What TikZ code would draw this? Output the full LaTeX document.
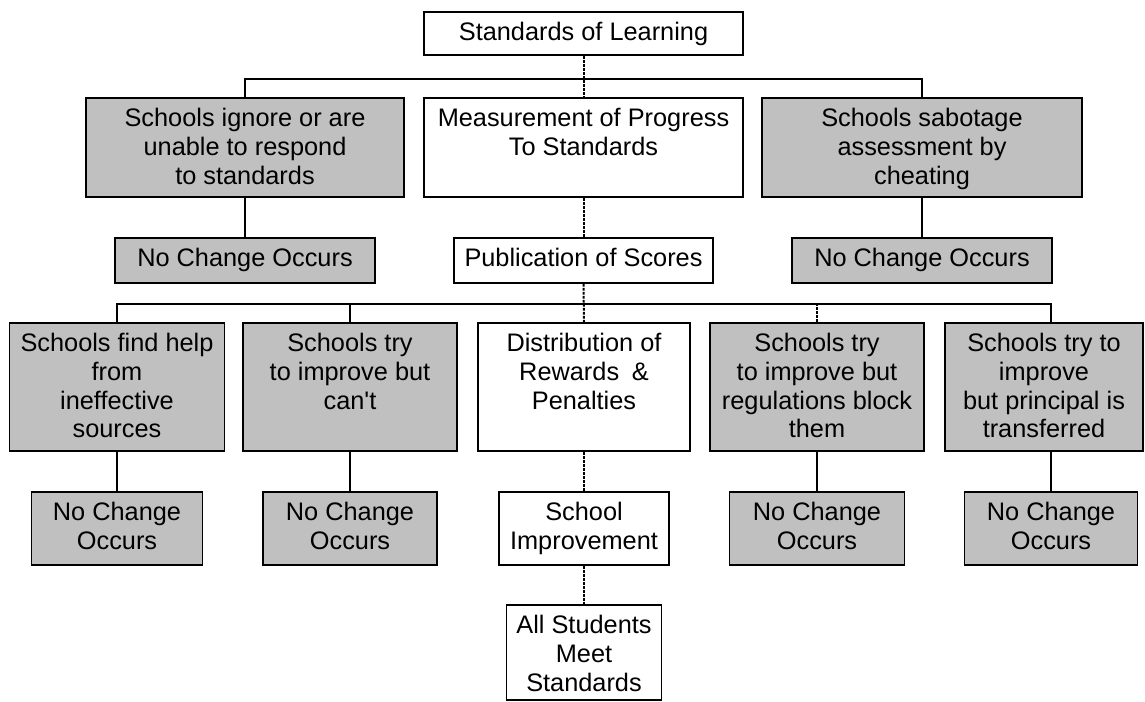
\documentclass[tikz,border=0pt]{standalone}
\usepackage{fontspec}
\setmainfont{Liberation Sans}
\definecolor{boxgray}{RGB}{192,192,192}
\newlength\px
\setlength\px{0.75pt}
\newcommand\bt[3]{\parbox[c][#2\px][t]{#1\px}{\centering\rule{0pt}{21.6pt}#3\par}}
\begin{document}
\begin{tikzpicture}[x=0.75pt,y=-0.75pt,
  box/.style={draw, line width=1.4pt, inner sep=0pt, fill=white, font=\fontsize{19}{21.5}\selectfont},
  gbox/.style={box, fill=boxgray},
  link/.style={line width=1.4pt},
  dotlink/.style={line width=1.5pt, dash pattern=on 2pt off 1pt}]
\useasboundingbox (0,0) rectangle (1145,702);
% level 0
\node[box] (top) at (583.5,33.5) {\bt{319}{43}{Standards of Learning}};
% level 1
\node[gbox] (ign) at (245,147.5) {\bt{318}{99}{Schools ignore or are\\unable to respond\\to standards}};
\node[box] (meas) at (583.5,147.5) {\bt{319}{99}{Measurement of Progress\\To Standards}};
\node[gbox] (sab) at (922,147.5) {\bt{320}{99}{Schools sabotage\\assessment by\\cheating}};
\node[gbox] (ncl) at (245,260.5) {\bt{260}{45}{No Change Occurs}};
\node[box] (pub) at (583.5,260.5) {\bt{259}{45}{Publication of Scores}};
\node[gbox] (ncr) at (922,260.5) {\bt{260}{45}{No Change Occurs}};
% level 2
\node[gbox] (b1) at (117,387) {\bt{215}{128}{Schools find help\\from\\ineffective\\sources}};
\node[gbox] (b2) at (350,387) {\bt{214}{128}{Schools try\\to improve but\\can\textquotesingle t}};
\node[box] (dist) at (584,387) {\bt{212}{128}{Distribution of\\Rewards\hspace{0.5em}\&\\Penalties}};
\node[gbox] (b4) at (817,387) {\bt{214}{128}{Schools try\\to improve but\\regulations block\\them}};
\node[gbox] (b5) at (1044,387) {\bt{198}{128}{Schools try to\\improve\\but principal is\\transferred}};
% level 3
\node[gbox] (nc1) at (117,528.5) {\bt{171}{73}{No Change\\Occurs}};
\node[gbox] (nc2) at (350,528.5) {\bt{174}{73}{No Change\\Occurs}};
\node[box] (imp) at (584,528.5) {\bt{170}{73}{School\\Improvement}};
\node[gbox] (nc4) at (817,528.5) {\bt{175}{73}{No Change\\Occurs}};
\node[gbox] (nc5) at (1051,528.5) {\bt{173}{73}{No Change\\Occurs}};
\node[box] (all) at (584,652.5) {\bt{155}{95}{All Students\\Meet\\Standards}};
% buses
\coordinate (bus1) at (584,79);
\coordinate (bus2) at (584,304);
% connectors level 1
\draw[link] (ign.north) -- (ign.north |- bus1) -- (sab.north |- bus1) -- (sab.north);
\draw[dotlink] (top.south) -- (meas.north);
\draw[link] (ign.south) -- (ncl.north);
\draw[link] (sab.south) -- (ncr.north);
\draw[dotlink] (meas.south) -- (pub.north);
% connectors level 2
\draw[link] (b1.north) -- (b1.north |- bus2) -- (nc5.north |- bus2) -- (nc5.north |- b5.north);
\draw[link] (b2.north) -- (b2.north |- bus2);
\draw[dotlink] (b4.north) -- (b4.north |- bus2);
\draw[dotlink] (pub.south) -- (dist.north);
% connectors level 3
\draw[link] (b1.south) -- (nc1.north);
\draw[link] (b2.south) -- (nc2.north);
\draw[link] (b4.south) -- (nc4.north);
\draw[link] (nc5.north |- b5.south) -- (nc5.north);
\draw[dotlink] (dist.south) -- (imp.north);
\draw[dotlink] (imp.south) -- (all.north);
\end{tikzpicture}
\end{document}
